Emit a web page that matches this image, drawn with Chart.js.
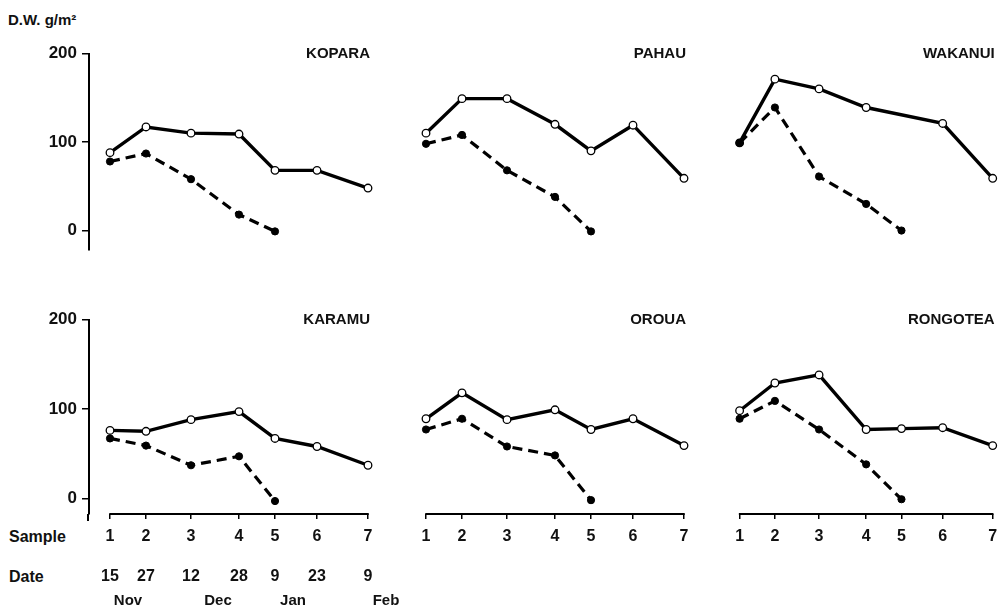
<!DOCTYPE html>
<html>
<head>
<meta charset="utf-8">
<script src="https://cdn.jsdelivr.net/npm/chart.js@4.4.1/dist/chart.umd.min.js"></script>
<style>
body{margin:0;background:#fff;overflow:hidden;width:998px;height:608px;position:relative;font-family:"Liberation Sans",Arial,sans-serif;font-weight:bold;color:#111}
canvas{position:absolute}
.lbl{position:absolute;font-size:15px;line-height:18px;white-space:nowrap}
</style>
</head>
<body>
<div class="lbl" style="left:8px;top:11px">D.W. g/m²</div>
<div class="lbl" style="left:9px;top:528px;font-size:16px">Sample</div>
<div class="lbl" style="left:9px;top:568px;font-size:16px">Date</div>
<canvas id="c0" width="410" height="230" style="left:0px;top:30px"></canvas>
<canvas id="c1" width="300" height="230" style="left:395px;top:30px"></canvas>
<canvas id="c2" width="289" height="230" style="left:709px;top:30px"></canvas>
<canvas id="c3" width="410" height="308" style="left:0px;top:300px"></canvas>
<canvas id="c4" width="300" height="308" style="left:395px;top:300px"></canvas>
<canvas id="c5" width="289" height="308" style="left:709px;top:300px"></canvas>
<script>
// samples, as days after 15 Nov
const sampleNo=['1','2','3','4','5','6','7'];
const sampleDays=[0,12,27,43,55,69,86];
const dateLabels=['15','27','12','28','9','23','9'];
const months=['Nov','Dec','Jan','Feb'];
const monthDays=[6,36,61,92];
const yTicks=[0,100,200];

// dry weight g/m2, solid = open circles, dashed = filled circles
const koparaSolid=[88,117,110,109,68,68,48];
const koparaDashed=[78,87,58,18,-1];
const pahauSolid=[110,149,149,120,90,119,59];
const pahauDashed=[98,108,68,38,-1];
const wakanuiSolid=[99,171,160,139,null,121,59];
const wakanuiDashed=[99,139,61,30,0];
const karamuSolid=[76,75,88,97,67,58,37];
const karamuDashed=[67,59,37,47,-3];
const orouaSolid=[89,118,88,99,77,89,59];
const orouaDashed=[77,89,58,48,-2];
const rongoteaSolid=[98,129,138,77,78,79,59];
const rongoteaDashed=[89,109,77,38,-1];

Chart.defaults.font.family='"Liberation Sans", Arial, sans-serif';
Chart.defaults.font.weight='bold';
Chart.defaults.font.size=15;
Chart.defaults.color='#111';

const panels=[
  {id:'c0',site:'KOPARA',solid:koparaSolid,dashed:koparaDashed,col:0,row:0},
  {id:'c1',site:'PAHAU',solid:pahauSolid,dashed:pahauDashed,col:1,row:0},
  {id:'c2',site:'WAKANUI',solid:wakanuiSolid,dashed:wakanuiDashed,col:2,row:0},
  {id:'c3',site:'KARAMU',solid:karamuSolid,dashed:karamuDashed,col:0,row:1},
  {id:'c4',site:'OROUA',solid:orouaSolid,dashed:orouaDashed,col:1,row:1},
  {id:'c5',site:'RONGOTEA',solid:rongoteaSolid,dashed:rongoteaDashed,col:2,row:1}
];
const padLeft=[0,10,10];
const padRight=[42,11,0];

const toPoints=(vals)=>vals.map((v,i)=>({x:sampleDays[i],y:v}));

const panelTitle={
  id:'panelTitle',
  afterDraw(chart,args,opts){
    const {ctx,chartArea}=chart;
    ctx.save();
    ctx.font='bold 15px "Liberation Sans", Arial';
    ctx.fillStyle='#111';
    ctx.textAlign='right';
    ctx.textBaseline='middle';
    ctx.fillText(opts.text,chartArea.right+2,chartArea.top);
    ctx.restore();
  }
};

// x axis line runs from sample 1 to sample 7 only
const sampleAxis={
  id:'sampleAxis',
  afterDraw(chart,args,opts){
    const x=chart.scales.x;
    if(!x.options.display) return;
    const ctx=chart.ctx;
    ctx.save();
    ctx.strokeStyle='#000';
    ctx.lineWidth=2;
    ctx.beginPath();
    ctx.moveTo(x.getPixelForValue(sampleDays[0])-0.75,x.top);
    ctx.lineTo(x.getPixelForValue(sampleDays[sampleDays.length-1])+0.75,x.top);
    ctx.stroke();
    if(opts.months){
      // y axis runs on a little below the sample axis
      const y=chart.scales.y;
      ctx.beginPath();
      ctx.moveTo(y.right-1,x.top);
      ctx.lineTo(y.right-1,x.top+7);
      ctx.stroke();
      ctx.font='bold 15px "Liberation Sans", Arial';
      ctx.fillStyle='#111';
      ctx.textAlign='center';
      ctx.textBaseline='middle';
      months.forEach((m,i)=>ctx.fillText(m,x.getPixelForValue(monthDays[i]),x.bottom-7));
    }
    ctx.restore();
  }
};

const makePanel=(p)=>{
  const first=p.col==0;
  const bottom=p.row==1;
  let ctx=document.getElementById(p.id);
  new Chart(ctx,{
    type:'line',
    data:{
      datasets:[{
        data:toPoints(p.dashed),
        borderColor:'#000',
        borderWidth:3.2,
        borderDash:[10,6],
        pointRadius:3.6,
        pointBackgroundColor:'#000',
        pointBorderColor:'#000',
        pointBorderWidth:1,
        clip:false
      },{
        data:toPoints(p.solid),
        borderColor:'#000',
        borderWidth:3.4,
        pointRadius:3.8,
        pointBackgroundColor:'#fff',
        pointBorderColor:'#000',
        pointBorderWidth:1.3,
        spanGaps:true,
        clip:false
      }]
    },
    options:{
      responsive:false,
      animation:false,
      devicePixelRatio:1,
      layout:{padding:{left:padLeft[p.col],right:padRight[p.col],top:bottom?19.5:23.5,bottom:bottom?0:10}},
      plugins:{
        legend:{display:false},
        tooltip:{enabled:false},
        panelTitle:{text:p.site},
        sampleAxis:{months:first&&bottom}
      },
      scales:{
        x:{
          type:'linear',
          min:-7,
          max:86,
          display:bottom,
          border:{display:false},
          grid:{drawOnChartArea:false,drawTicks:true,tickLength:5,color:'#000',lineWidth:1.5},
          ticks:{
            autoSkip:false,
            maxRotation:0,
            padding:8,
            font:{size:16,weight:'bold',lineHeight:1.25},
            callback:(v,i)=>first?[sampleNo[i],'',dateLabels[i]]:sampleNo[i]
          },
          afterBuildTicks:s=>{s.ticks=sampleDays.map(v=>({value:v}))},
          afterFit:s=>{s.height=bottom?94:0;s.paddingLeft=0;s.paddingRight=0}
        },
        y:{
          min:bottom?-17.5:-22,
          max:200,
          display:first,
          border:{display:true,color:'#000',width:2},
          grid:{drawOnChartArea:false,drawTicks:true,tickLength:7,color:'#000',lineWidth:1.5},
          ticks:{padding:5,font:{size:17,weight:'bold'}},
          afterBuildTicks:s=>{s.ticks=yTicks.map(v=>({value:v}))},
          afterFit:s=>{s.width=first?89:0;s.paddingTop=0;s.paddingBottom=0}
        }
      }
    },
    plugins:[panelTitle,sampleAxis]
  });
};

panels.forEach(makePanel);
</script>
</body>
</html>
